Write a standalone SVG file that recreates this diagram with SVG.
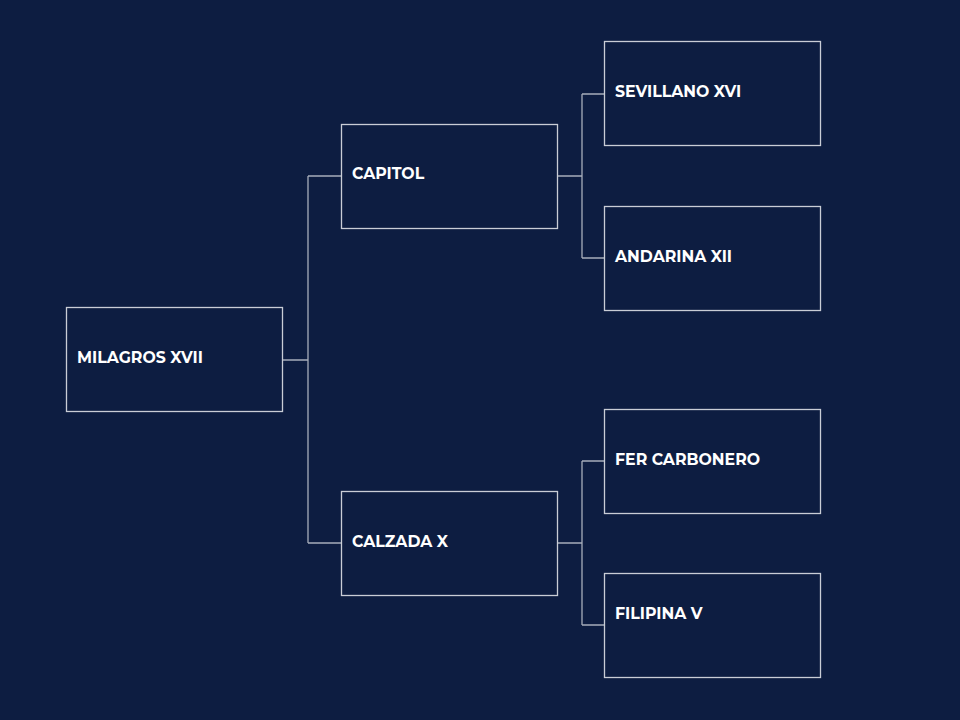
<svg xmlns="http://www.w3.org/2000/svg" width="960" height="720" viewBox="0 0 960 720">
<style>
.bg{fill:#0d1d41}
.box{fill:#0d1d41;stroke:#c9cdd6;stroke-width:1.3}
.lbl{font-family:"Montserrat","Open Sans","Liberation Sans",sans-serif;font-weight:700;font-size:15.75px;fill:#ffffff}
.conn{fill:none;stroke:#a7adba;stroke-width:1.3}
</style>
<rect class="bg" x="0" y="0" width="960" height="720"/>
<g id="connectors">
<path class="conn" d="M283 360H308M308 176V543M308 176H341M308 543H341"/>
<path class="conn" d="M557 176H582M582 94V258M582 94H604M582 258H604"/>
<path class="conn" d="M557 543H582M582 461V625M582 461H604M582 625H604"/>
</g>
<g id="n-milagros"><rect class="box" x="66.5" y="307.5" width="216" height="104"/><text class="lbl" x="77" y="363">MILAGROS XVII</text></g>
<g id="n-capitol"><rect class="box" x="341.5" y="124.5" width="216" height="104"/><text class="lbl" x="352" y="179">CAPITOL</text></g>
<g id="n-calzada"><rect class="box" x="341.5" y="491.5" width="216" height="104"/><text class="lbl" x="352" y="547">CALZADA X</text></g>
<g id="n-sevillano"><rect class="box" x="604.5" y="41.5" width="216" height="104"/><text class="lbl" x="615" y="97">SEVILLANO XVI</text></g>
<g id="n-andarina"><rect class="box" x="604.5" y="206.5" width="216" height="104"/><text class="lbl" x="615" y="262">ANDARINA XII</text></g>
<g id="n-fer"><rect class="box" x="604.5" y="409.5" width="216" height="104"/><text class="lbl" x="615" y="465">FER CARBONERO</text></g>
<g id="n-filipina"><rect class="box" x="604.5" y="573.5" width="216" height="104"/><text class="lbl" x="615" y="619">FILIPINA V</text></g>
</svg>
